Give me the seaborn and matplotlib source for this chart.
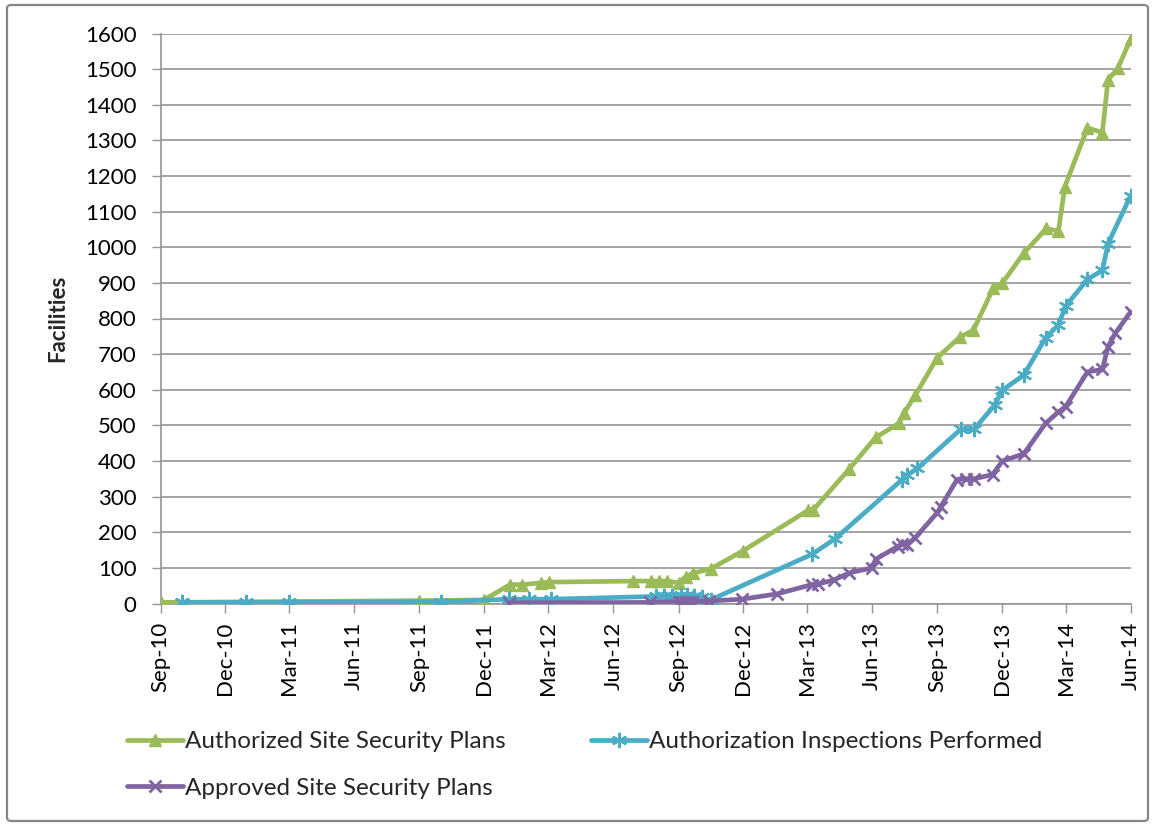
import matplotlib
matplotlib.use("Agg")
import matplotlib.pyplot as plt
import matplotlib.dates as mdates
from matplotlib.patches import FancyBboxPatch
import seaborn as sns
import pandas as pd

# ---------------- data ----------------
authorized_dates = ["2010-09-01", "2011-09-01", "2011-12-01", "2012-01-07", "2012-01-24",
                    "2012-02-20", "2012-03-02", "2012-06-28", "2012-07-24", "2012-08-04",
                    "2012-08-16", "2012-09-01", "2012-09-11", "2012-09-21", "2012-10-16",
                    "2012-12-01", "2013-03-03", "2013-03-10", "2013-04-30", "2013-06-06",
                    "2013-07-09", "2013-07-16", "2013-08-01", "2013-09-01", "2013-10-03",
                    "2013-10-22", "2013-11-19", "2013-12-02", "2014-01-01", "2014-02-02",
                    "2014-02-19", "2014-02-28", "2014-04-01", "2014-04-22", "2014-04-30",
                    "2014-05-14", "2014-06-01"]
authorized_vals = [3, 8, 10, 53, 53,
                   58, 60, 63, 63, 63,
                   63, 58, 75, 85, 97,
                   148, 262, 263, 378, 466,
                   506, 534, 585, 690, 748,
                   767, 885, 900, 983, 1053,
                   1045, 1170, 1335, 1322, 1470,
                   1503, 1585]

inspect_dates = ["2010-10-01", "2010-12-31", "2011-03-01", "2011-10-01", "2012-01-06",
                 "2012-02-03", "2012-03-05", "2012-07-31", "2012-08-11", "2012-08-23",
                 "2012-09-04", "2012-09-13", "2012-09-22", "2012-10-04", "2012-10-16",
                 "2013-03-08", "2013-04-10", "2013-07-13", "2013-07-20", "2013-08-04",
                 "2013-10-04", "2013-10-23", "2013-11-21", "2013-12-02", "2014-01-01",
                 "2014-02-01", "2014-02-19", "2014-03-01", "2014-04-01", "2014-04-22",
                 "2014-04-30", "2014-06-01"]
inspect_vals = [3, 3, 3, 5, 12,
                12, 12, 20, 20, 22,
                25, 25, 22, 18, 10,
                138, 182, 347, 360, 379,
                489, 489, 557, 599, 641,
                746, 782, 834, 910, 935,
                1010, 1145]

approved_dates = ["2012-01-06", "2012-07-23", "2012-09-01", "2012-09-06", "2012-09-11",
                  "2012-09-15", "2012-09-20", "2012-10-14", "2012-11-29", "2013-01-18",
                  "2013-03-08", "2013-03-17", "2013-04-08", "2013-04-30", "2013-06-01",
                  "2013-06-06", "2013-07-07", "2013-07-13", "2013-07-20", "2013-08-01",
                  "2013-09-01", "2013-09-06", "2013-09-29", "2013-10-11", "2013-10-23",
                  "2013-11-18", "2013-12-02", "2014-01-01", "2014-02-01", "2014-02-19",
                  "2014-03-01", "2014-04-01", "2014-04-22", "2014-04-30", "2014-05-10",
                  "2014-06-01"]
approved_vals = [2, 3, 5, 5, 5,
                 5, 5, 7, 12, 27,
                 53, 55, 66, 86, 100,
                 124, 160, 168, 165, 185,
                 255, 272, 348, 350, 350,
                 362, 400, 420, 506, 538,
                 552, 650, 657, 721, 758,
                 819]

series_names = ["Authorized Site Security Plans",
                "Authorization Inspections Performed",
                "Approved Site Security Plans"]
y_label = "Facilities"

# ---------------- style ----------------
sns.set_style("white")
plt.rcParams["font.family"] = ["Lato", "DejaVu Sans"]
FS = 16
LFS = 17.5

GREEN = "#9BBB59"
CYAN = "#4BACC6"
PURPLE = "#8064A2"
GRID = "#959595"

W, H = 1153, 825
fig = plt.figure(figsize=(W / 100, H / 100), dpi=100)
ax = fig.add_axes([160.7 / W, 1 - 603.5 / H, (1130.7 - 160.7) / W, (603.5 - 33.5) / H])

specs = [
    (authorized_dates, authorized_vals, GREEN, "^", 9, 1.0),
    (inspect_dates, inspect_vals, CYAN, (6, 2, 0), 11, 1.6),
    (approved_dates, approved_vals, PURPLE, "x", 9, 2.0),
]
handles = []
for (d, v, c, m, ms, mew), name in zip(specs, series_names):
    df = pd.DataFrame({"date": pd.to_datetime(d), "value": v})
    sns.lineplot(data=df, x="date", y="value", ax=ax, color=c, linewidth=3.4,
                 marker=m, markersize=ms, markeredgecolor=c, markerfacecolor=c,
                 markeredgewidth=mew, label=name, zorder=3)
    handles.append(ax.get_lines()[-1])

if ax.get_legend() is not None:
    ax.get_legend().remove()

ax.set_xlim(pd.Timestamp("2010-09-01"), pd.Timestamp("2014-06-01"))
ax.set_ylim(0, 1600)
ax.set_yticks(range(0, 1601, 100))
ax.xaxis.set_major_locator(mdates.MonthLocator(bymonth=[3, 6, 9, 12]))
ax.xaxis.set_major_formatter(mdates.DateFormatter("%b-%y"))

ax.yaxis.grid(True, color=GRID, linewidth=1.2)
ax.xaxis.grid(False)
ax.set_axisbelow(True)
for s in ["top", "right"]:
    ax.spines[s].set_visible(False)
for s in ["left", "bottom"]:
    ax.spines[s].set_color(GRID)
    ax.spines[s].set_linewidth(1.2)

ax.tick_params(axis="y", direction="out", length=6.5, width=1, color=GRID,
               pad=11, labelsize=FS, labelcolor="#000000", left=True)
ax.tick_params(axis="x", direction="out", length=6.8, width=1, color=GRID,
               pad=6, labelsize=FS, labelcolor="#000000", bottom=True, labelrotation=90)
ax.set_xlabel("")
ax.set_ylabel(y_label, fontsize=FS, fontweight="bold", labelpad=12)

# legend (Excel row order: A B / C)
fig.legend([handles[0], handles[2], handles[1]],
           [series_names[0], series_names[2], series_names[1]],
           ncol=2, loc="upper left", bbox_to_anchor=(127 / W, 1 - 731 / H),
           frameon=False, fontsize=LFS, handlelength=2.3, handletextpad=0.1,
           labelspacing=1.05, columnspacing=3.5, borderpad=0, borderaxespad=0,
           numpoints=1)

# chart-area border
border = FancyBboxPatch((7 / W, 4 / H), (1148 - 7) / W, (820 - 4) / H,
                        boxstyle="round,pad=0,rounding_size=0.004",
                        transform=fig.transFigure, fill=False,
                        edgecolor="#868686", linewidth=1.6)
fig.patches.append(border)

fig.savefig("out.png", dpi=100)
